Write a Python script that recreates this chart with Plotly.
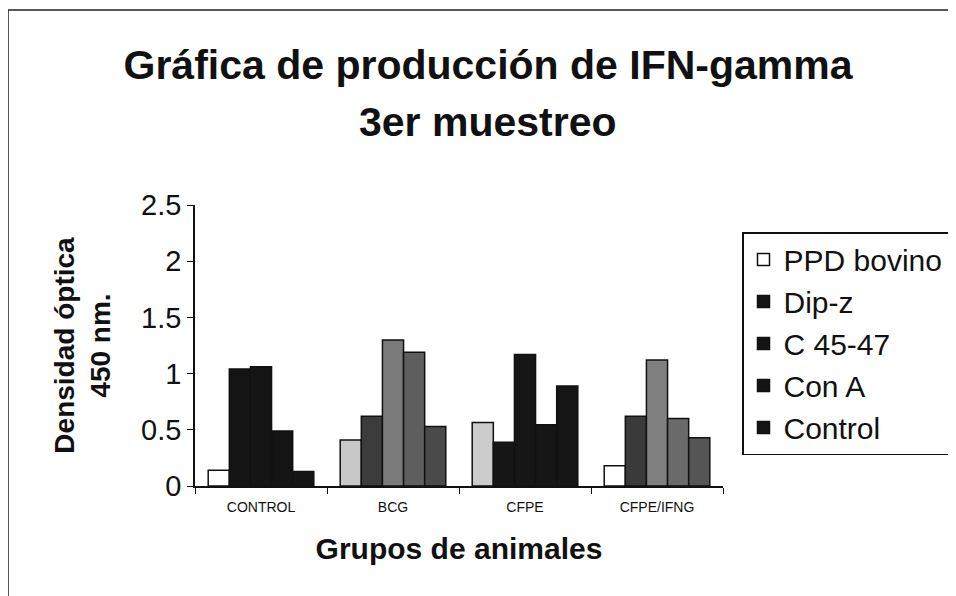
import plotly.graph_objects as go

groups = ["CONTROL", "BCG", "CFPE", "CFPE/IFNG"]
series_names = ["PPD bovino", "Dip-z", "C 45-47", "Con A", "Control"]
ppd_bovino = [0.14, 0.41, 0.565, 0.18]
dip_z = [1.04, 0.62, 0.39, 0.62]
c_45_47 = [1.06, 1.30, 1.17, 1.12]
con_a = [0.49, 1.19, 0.545, 0.60]
control = [0.13, 0.53, 0.89, 0.43]
y_ticks = [0, 0.5, 1, 1.5, 2, 2.5]
y_tick_labels = ["0", "0.5", "1", "1.5", "2", "2.5"]
title_line1 = "Gráfica de producción de IFN-gamma"
title_line2 = "3er muestreo"

values = [ppd_bovino, dip_z, c_45_47, con_a, control]
# per-bar fill tones as they appear in the scanned figure
colors = [
    ["#ffffff", "#c8c8c8", "#cccccc", "#ffffff"],
    ["#141414", "#3c3c3c", "#161616", "#3a3a3a"],
    ["#141414", "#7a7a7a", "#161616", "#808080"],
    ["#141414", "#5e5e5e", "#161616", "#6a6a6a"],
    ["#141414", "#4a4a4a", "#161616", "#555555"],
]

FONT = "Arial, Liberation Sans, Helvetica, sans-serif"

L, T, PW, PH, W, H = 187, 197, 528, 281, 956, 596

fig = go.Figure()
for i, (name, vals) in enumerate(zip(series_names, values)):
    fig.add_trace(go.Bar(
        x=groups, y=vals, name=name,
        marker=dict(color=colors[i], line=dict(color="#111111", width=1.5)),
    ))

fig.update_layout(
    width=W, height=H,
    paper_bgcolor="white", plot_bgcolor="white",
    margin=dict(l=L, r=W - L - PW, t=T, b=H - T - PH, autoexpand=False),
    barmode="group", bargap=0.2, bargroupgap=0,
    font=dict(family=FONT, color="#111111"),
    title=dict(
        text="<b>" + title_line1 + "</b>",
        x=480 / W, xanchor="center", y=1 - 57 / H, yanchor="middle",
        font=dict(size=41, family=FONT, color="#111111"),
    ),
    legend=dict(
        x=(734 - L) / PW, xanchor="left", y=(T + PH - 224) / PH, yanchor="top",
        bordercolor="#111111", borderwidth=1.5, bgcolor="white",
        font=dict(size=30, family=FONT, color="#111111"),
        traceorder="normal",
    ),
    showlegend=True,
)

fig.add_annotation(
    text="<b>" + title_line2 + "</b>", xref="paper", yref="paper",
    x=(480 - L) / PW, y=(T + PH - 114) / PH, xanchor="center", yanchor="middle",
    showarrow=False, font=dict(size=41, family=FONT, color="#111111"),
)

fig.update_xaxes(
    type="category", showline=True, linecolor="#111111", linewidth=1.5,
    ticks="outside", tickson="boundaries", ticklen=6, tickcolor="#111111",
    ticklabelstandoff=7,
    tickfont=dict(size=14, family=FONT, color="#111111"),
    showgrid=False,
    title=dict(text="<b>Grupos de animales</b>", font=dict(size=30, family=FONT), standoff=24),
)
fig.update_yaxes(
    range=[0, 2.5], tickvals=y_ticks, ticktext=y_tick_labels,
    showline=True, linecolor="#111111", linewidth=1.5,
    ticks="outside", ticklen=6, tickcolor="#111111",
    tickfont=dict(size=29, family=FONT, color="#111111"),
    showgrid=False, zeroline=False,
    title=dict(text="<b>Densidad óptica<br>450 nm.</b>", font=dict(size=28, family=FONT), standoff=22),
)

# scanned page frame (left and top edges)
fx0 = (0 - L) / PW
fy_top = (T + PH - 2) / PH
fig.add_shape(type="line", xref="paper", yref="paper",
              x0=fx0, x1=fx0, y0=(T + PH - H) / PH, y1=fy_top,
              line=dict(color="#222222", width=1.5))
fig.add_shape(type="line", xref="paper", yref="paper",
              x0=fx0, x1=(W - L) / PW, y0=fy_top, y1=fy_top,
              line=dict(color="#222222", width=1.5))

fig.write_html("out.html")
